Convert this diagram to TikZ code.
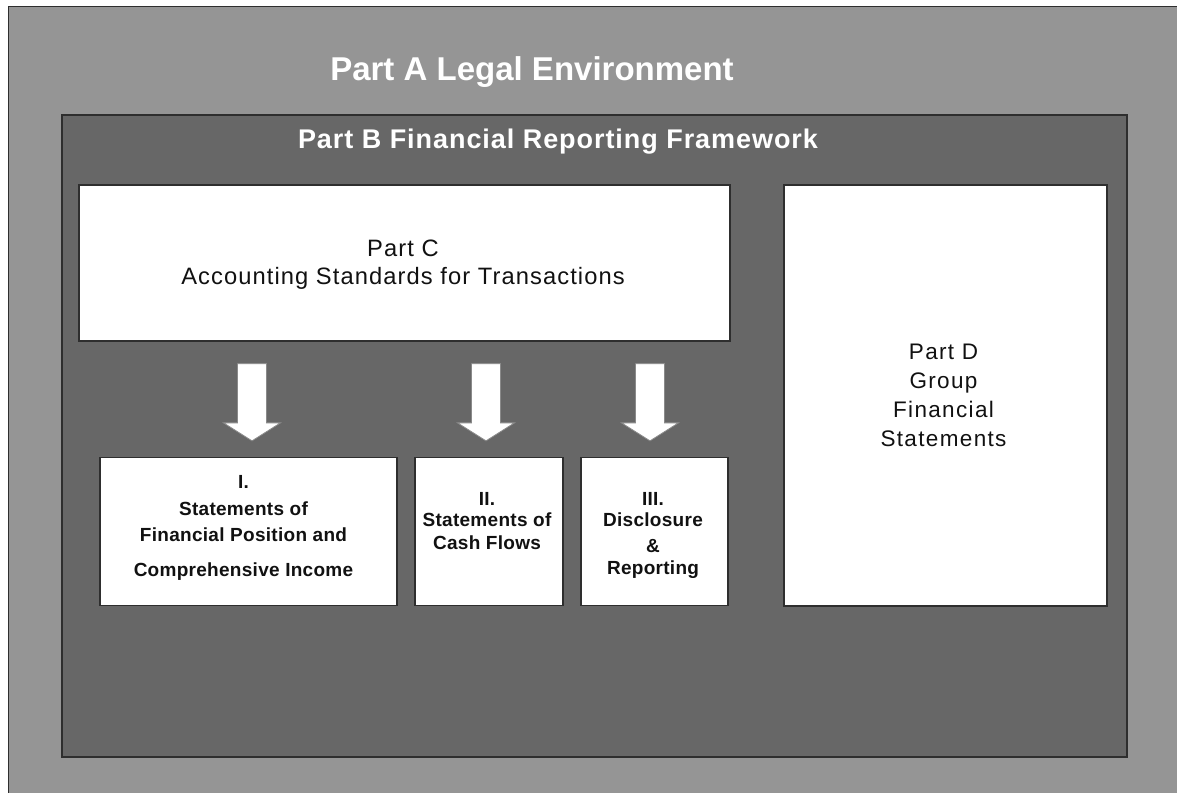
\documentclass[tikz,border=0pt]{standalone}
\usepackage{fontspec}
\setmainfont{Liberation Sans}
\usetikzlibrary{calc}
\definecolor{outergray}{HTML}{959595}
\definecolor{innergray}{HTML}{676767}
\definecolor{edgegray}{HTML}{2E2E2E}
\definecolor{inktext}{HTML}{111111}
\definecolor{arrowedge}{HTML}{8A8A8A}
\newcommand\fatarrowfromto[2]{%
  \draw[fatarr] let \p1=(#1), \p2=(#2) in
    (\x1-14.5pt,\y1) -- (\x1+14.5pt,\y1) -- (\x1+14.5pt,\y2+18pt) --
    (\x1+28.5pt,\y2+18pt) -- (\x1,\y2) -- (\x1-28.5pt,\y2+18pt) --
    (\x1-14.5pt,\y2+18pt) -- cycle;}
\begin{document}
\begin{tikzpicture}[x=1pt,y=-1pt,
  whitebox/.style={draw=edgegray,line width=1.3pt,fill=white,inner sep=0pt},
  fatarr/.style={draw=arrowedge,line width=0.8pt,fill=white},
  titletext/.style={text=white,font=\bfseries\fontsize{33}{38}\selectfont,anchor=base,inner sep=0pt},
  subtitletext/.style={text=white,font=\bfseries\fontsize{27}{32}\selectfont\addfontfeature{LetterSpace=3.5},anchor=base,inner sep=0pt},
  bigtext/.style={text=inktext,align=center,inner sep=0pt},
  smalltext/.style={text=inktext,align=center,inner sep=0pt}]
\useasboundingbox (0,0) rectangle (1177,792);
\clip (0,0) rectangle (1177,792);
\fill[white] (0,0) rectangle (1177,792);
% Part A frame
\draw[fill=outergray,draw=edgegray,line width=1pt] (8,7) rectangle (1190,805);
\node[titletext] (ta) at (532,80) {Part A Legal Environment};
% Part B frame
\draw[fill=innergray,draw=edgegray,line width=1.5pt] (62,115) rectangle (1127,757);
\node[subtitletext] (tb) at (558,148) {Part B Financial Reporting Framework};
% Part C
\node[whitebox,minimum width=651pt,minimum height=156pt] (c) at (404.5,263) {};
\node[bigtext,font=\fontsize{23.7}{28}\selectfont\addfontfeature{LetterSpace=4.6}] (tc) at (403,265)
  {Part C\\Accounting Standards for Transactions};
% Part D
\node[whitebox,minimum width=323pt,minimum height=421pt] (d) at (945.5,395.5) {};
\node[bigtext,font=\fontsize{22.5}{29}\selectfont\addfontfeature{LetterSpace=6}] (td) at (943.5,395)
  {Part D\\Group\\Financial\\Statements};
% Boxes I, II, III
\node[whitebox,minimum width=297pt,minimum height=148pt] (b1) at (248.5,531.5) {};
\node[whitebox,minimum width=148pt,minimum height=148pt] (b2) at (489,531.5) {};
\node[whitebox,minimum width=147pt,minimum height=148pt] (b3) at (654.5,531.5) {};
\node[smalltext,font=\bfseries\fontsize{19}{26}\selectfont\addfontfeature{LetterSpace=1.5}] (t1) at (243.5,527.5)
  {I.\\[1pt]Statements of\\Financial Position and\\[9pt]Comprehensive Income};
\node[smalltext,font=\bfseries\fontsize{19}{21}\selectfont\addfontfeature{LetterSpace=1.5}] (t2) at (487,521)
  {II.\\Statements of\\[2pt]Cash Flows};
\node[smalltext,font=\bfseries\fontsize{19}{21}\selectfont\addfontfeature{LetterSpace=1.5}] (t3) at (653,535.5)
  {III.\\Disclosure\\[5pt]\&\\[1pt]Reporting};
% Arrows
\coordinate (a1s) at ($(b1.north |- c.south)+(3.5,22)$);
\coordinate (a1e) at ($(b1.north)+(3.5,-16)$);
\coordinate (a2s) at ($(b2.north |- c.south)+(-3,22)$);
\coordinate (a2e) at ($(b2.north)+(-3,-16)$);
\coordinate (a3s) at ($(b3.north |- c.south)+(-4.5,22)$);
\coordinate (a3e) at ($(b3.north)+(-4.5,-16)$);
\fatarrowfromto{a1s}{a1e}
\fatarrowfromto{a2s}{a2e}
\fatarrowfromto{a3s}{a3e}
\end{tikzpicture}
\end{document}
